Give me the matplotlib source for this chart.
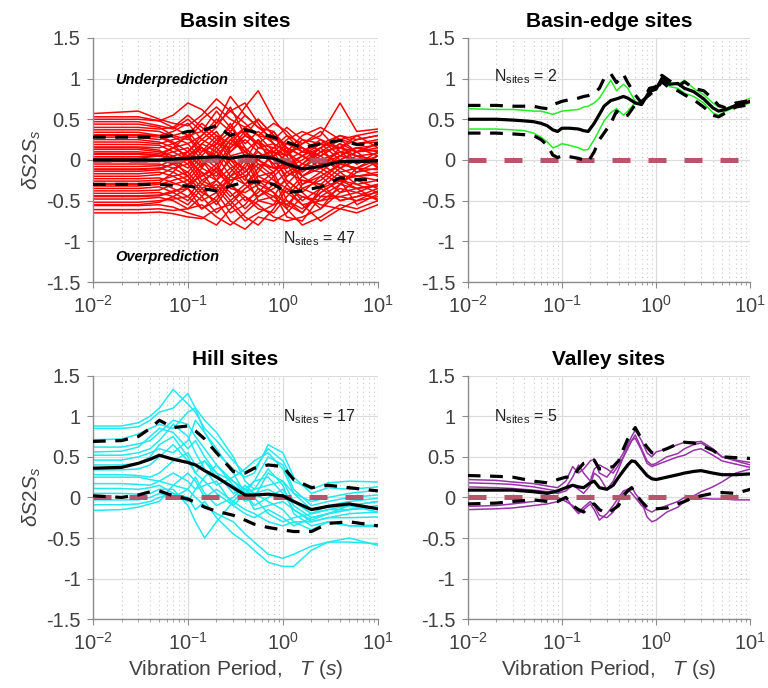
import matplotlib
matplotlib.use('Agg')
import matplotlib.pyplot as plt
from matplotlib.ticker import LogLocator, NullFormatter

plt.rcParams['font.family'] = ['Liberation Sans', 'DejaVu Sans']
plt.rcParams['mathtext.fontset'] = 'custom'
plt.rcParams['mathtext.rm'] = 'Liberation Sans'
plt.rcParams['mathtext.it'] = 'Liberation Sans:italic'
plt.rcParams['mathtext.bf'] = 'Liberation Sans:bold'

# ---------------- Basin sites ----------------
T_basin = [0.01, 0.03, 0.05, 0.07, 0.1, 0.14, 0.2, 0.28, 0.4, 0.55, 0.8, 1.1, 1.6, 2.5, 4.0, 6.0, 10.0]
basin_curves = [
    [0.57, 0.60, 0.50, 0.45, 0.42, 0.55, 0.75, 0.60, 0.45, 0.30, 0.25, 0.20, 0.10, 0.20, 0.30, 0.25, 0.30],
    [0.50, 0.50, 0.48, 0.55, 0.70, 0.62, 0.45, 0.78, 0.55, 0.40, 0.35, 0.15, 0.05, 0.15, 0.25, 0.30, 0.35],
    [0.47, 0.47, 0.42, 0.38, 0.50, 0.35, 0.60, 0.40, 0.65, 0.85, 0.50, 0.30, 0.20, 0.30, 0.70, 0.35, 0.38],
    [0.44, 0.44, 0.40, 0.30, 0.25, 0.45, 0.30, 0.20, 0.40, 0.30, 0.45, 0.35, 0.15, 0.05, 0.20, 0.10, 0.20],
    [0.40, 0.40, 0.38, 0.40, 0.55, 0.40, 0.25, 0.40, 0.20, 0.35, 0.20, 0.10, 0.30, 0.40, 0.25, 0.20, 0.25],
    [0.37, 0.37, 0.35, 0.28, 0.20, 0.30, 0.50, 0.35, 0.55, 0.40, 0.25, 0.40, 0.25, 0.10, 0.15, 0.30, 0.15],
    [0.34, 0.34, 0.30, 0.35, 0.45, 0.25, 0.15, 0.30, 0.35, 0.15, 0.10, 0.25, 0.35, 0.25, 0.05, 0.15, 0.10],
    [0.31, 0.31, 0.30, 0.22, 0.10, 0.25, 0.40, 0.65, 0.30, 0.20, 0.35, 0.10, -0.05, 0.15, 0.30, 0.20, 0.22],
    [0.28, 0.28, 0.25, 0.30, 0.35, 0.15, 0.05, 0.25, 0.10, 0.25, 0.05, 0.20, 0.15, -0.05, 0.10, 0.05, 0.00],
    [0.25, 0.25, 0.22, 0.15, 0.05, 0.20, 0.35, 0.10, 0.30, 0.50, 0.30, 0.05, 0.20, 0.35, 0.10, 0.15, 0.18],
    [0.22, 0.22, 0.20, 0.25, 0.30, 0.10, 0.20, 0.45, 0.15, 0.00, 0.15, 0.30, 0.10, 0.05, 0.20, -0.05, 0.05],
    [0.19, 0.19, 0.18, 0.10, 0.00, 0.15, -0.05, 0.10, 0.25, 0.10, -0.05, 0.00, -0.10, 0.10, 0.25, 0.10, 0.12],
    [0.16, 0.16, 0.15, 0.20, 0.28, 0.05, 0.25, 0.00, -0.10, 0.15, 0.20, -0.10, 0.05, 0.20, 0.00, 0.10, -0.10],
    [0.13, 0.13, 0.10, 0.05, -0.05, 0.20, 0.10, 0.30, 0.05, -0.10, 0.05, 0.15, -0.20, -0.10, 0.15, 0.05, 0.08],
    [0.10, 0.10, 0.08, 0.15, 0.20, 0.00, -0.15, 0.15, 0.35, 0.20, 0.00, -0.20, -0.05, 0.10, -0.05, -0.10, 0.00],
    [0.07, 0.07, 0.05, 0.00, -0.10, 0.10, 0.30, 0.05, -0.15, 0.05, 0.10, 0.05, -0.30, -0.15, 0.05, 0.15, 0.05],
    [0.04, 0.04, 0.05, 0.10, 0.15, -0.05, 0.05, -0.20, 0.00, 0.25, -0.10, -0.10, 0.00, 0.15, -0.10, 0.00, -0.05],
    [0.01, 0.01, 0.00, -0.05, -0.15, 0.05, -0.10, 0.20, 0.15, -0.20, -0.15, 0.10, -0.15, 0.00, 0.10, -0.05, 0.10],
    [-0.02, -0.02, -0.02, 0.05, 0.10, -0.10, 0.15, -0.05, -0.25, 0.05, 0.05, -0.25, -0.40, -0.20, -0.05, 0.05, -0.08],
    [-0.05, -0.05, -0.05, -0.10, -0.20, 0.00, -0.25, 0.05, 0.10, -0.05, -0.20, -0.05, 0.05, -0.10, 0.00, -0.15, -0.02],
    [-0.08, -0.08, -0.07, 0.00, 0.05, -0.20, -0.05, -0.30, -0.05, 0.10, -0.05, -0.30, -0.10, 0.05, -0.15, -0.10, -0.12],
    [-0.11, -0.11, -0.10, -0.15, -0.25, -0.05, 0.10, -0.10, -0.30, -0.15, 0.10, -0.15, -0.25, -0.30, -0.10, 0.00, -0.05],
    [-0.14, -0.14, -0.12, -0.05, 0.00, -0.25, -0.35, -0.15, 0.05, -0.25, -0.30, -0.40, -0.20, -0.05, -0.20, -0.20, -0.15],
    [-0.17, -0.17, -0.15, -0.20, -0.30, -0.10, -0.20, 0.00, -0.20, -0.05, -0.10, -0.05, -0.35, -0.25, -0.05, -0.10, -0.20],
    [-0.20, -0.20, -0.18, -0.10, -0.05, -0.30, -0.10, -0.35, -0.40, -0.30, -0.15, -0.50, -0.60, -0.40, -0.25, -0.30, -0.25],
    [-0.23, -0.23, -0.22, -0.28, -0.35, -0.15, -0.40, -0.20, -0.10, -0.35, -0.45, -0.20, -0.10, -0.15, -0.30, -0.15, -0.10],
    [-0.26, -0.26, -0.25, -0.20, -0.15, -0.35, -0.25, -0.45, -0.30, -0.10, -0.25, -0.35, -0.45, -0.50, -0.35, -0.40, -0.30],
    [-0.29, -0.29, -0.28, -0.35, -0.45, -0.25, -0.15, -0.30, -0.50, -0.40, -0.20, -0.60, -0.30, -0.20, -0.40, -0.25, -0.35],
    [-0.32, -0.32, -0.30, -0.25, -0.20, -0.40, -0.50, -0.25, -0.20, -0.50, -0.55, -0.30, -0.50, -0.35, -0.15, -0.30, -0.40],
    [-0.35, -0.35, -0.33, -0.40, -0.50, -0.30, -0.35, -0.55, -0.35, -0.25, -0.40, -0.70, -0.75, -0.45, -0.45, -0.50, -0.45],
    [-0.38, -0.38, -0.37, -0.30, -0.25, -0.45, -0.25, -0.40, -0.60, -0.45, -0.35, -0.25, -0.40, -0.60, -0.30, -0.35, -0.50],
    [-0.41, -0.41, -0.40, -0.45, -0.55, -0.35, -0.55, -0.30, -0.45, -0.60, -0.65, -0.45, -0.25, -0.30, -0.50, -0.45, -0.35],
    [-0.44, -0.44, -0.43, -0.38, -0.35, -0.50, -0.40, -0.65, -0.55, -0.35, -0.50, -0.55, -0.65, -0.40, -0.25, -0.55, -0.42],
    [-0.48, -0.48, -0.46, -0.50, -0.60, -0.45, -0.65, -0.50, -0.70, -0.80, -0.60, -0.35, -0.55, -0.50, -0.45, -0.40, -0.48],
    [-0.52, -0.52, -0.50, -0.48, -0.45, -0.60, -0.50, -0.75, -0.85, -0.70, -0.75, -0.65, -0.45, -0.55, -0.60, -0.50, -0.38],
    [-0.56, -0.56, -0.55, -0.58, -0.65, -0.70, -0.80, -0.60, -0.45, -0.55, -0.70, -0.75, -0.70, -0.60, -0.40, -0.35, -0.32],
    [-0.61, -0.61, -0.60, -0.62, -0.60, -0.55, -0.70, -0.80, -0.65, -0.50, -0.45, -0.60, -0.80, -0.70, -0.55, -0.60, -0.50],
    [-0.65, -0.65, -0.64, -0.66, -0.70, -0.72, -0.60, -0.55, -0.75, -0.65, -0.55, -0.50, -0.65, -0.35, -0.50, -0.45, -0.40],
    [0.53, 0.53, 0.48, 0.40, 0.30, 0.35, 0.20, 0.15, 0.30, 0.20, 0.15, 0.05, 0.25, 0.20, 0.15, 0.25, 0.30],
    [0.02, 0.02, 0.05, 0.15, 0.30, 0.50, 0.65, 0.50, 0.40, 0.50, 0.30, 0.15, 0.05, -0.05, 0.00, 0.10, 0.15],
    [-0.12, -0.12, -0.10, -0.05, 0.10, 0.30, 0.45, 0.60, 0.70, 0.45, 0.20, 0.10, 0.15, 0.00, -0.10, -0.20, -0.25],
    [0.15, 0.15, 0.12, 0.00, -0.20, -0.40, -0.30, -0.50, -0.35, -0.20, -0.30, -0.15, -0.05, -0.10, -0.25, -0.20, -0.18],
    [-0.30, -0.30, -0.28, -0.15, 0.05, 0.15, 0.00, 0.25, 0.40, 0.30, 0.10, 0.00, -0.20, -0.05, 0.05, 0.00, -0.02],
    [0.30, 0.30, 0.28, 0.20, 0.00, -0.15, -0.25, -0.10, 0.00, -0.30, -0.40, -0.55, -0.35, -0.45, -0.30, -0.10, 0.05],
    [-0.45, -0.45, -0.44, -0.40, -0.30, -0.20, -0.10, -0.25, -0.15, 0.00, -0.15, 0.00, 0.10, 0.25, 0.15, 0.10, 0.20],
    [0.08, 0.08, 0.06, 0.02, 0.05, -0.08, 0.20, 0.35, 0.10, 0.00, -0.10, -0.05, -0.20, -0.35, -0.25, -0.35, -0.30],
    [-0.55, -0.55, -0.52, -0.45, -0.35, -0.60, -0.45, -0.20, -0.30, -0.45, -0.30, -0.40, -0.55, -0.75, -0.60, -0.65, -0.55],
]
basin_mean = [0.00, 0.00, 0.00, 0.01, 0.02, 0.03, 0.04, 0.02, 0.05, 0.04, 0.02, -0.05, -0.11, -0.08, -0.02, -0.02, -0.01]
basin_upper = [0.28, 0.28, 0.28, 0.30, 0.35, 0.36, 0.42, 0.30, 0.37, 0.33, 0.28, 0.22, 0.15, 0.20, 0.24, 0.19, 0.20]
basin_lower = [-0.30, -0.30, -0.30, -0.31, -0.32, -0.35, -0.38, -0.32, -0.27, -0.27, -0.30, -0.40, -0.38, -0.33, -0.22, -0.24, -0.25]

# ---------------- Basin-edge sites ----------------
T_edge = [0.01, 0.02, 0.03, 0.04, 0.05, 0.06, 0.07, 0.08, 0.09, 0.1, 0.12, 0.15, 0.17, 0.19, 0.22, 0.25,
          0.28, 0.33, 0.38, 0.45, 0.5, 0.6, 0.7, 0.85, 1.0, 1.15, 1.4, 1.7, 2.0, 2.5, 3.2, 4.0, 4.6, 5.5, 7.0, 10.0]
edge_curves = [
    [0.63, 0.62, 0.62, 0.61, 0.60, 0.60, 0.58, 0.56, 0.58, 0.60, 0.61, 0.62, 0.65, 0.66, 0.70, 0.76, 0.85, 0.98,
     0.85, 0.93, 0.88, 0.72, 0.68, 0.87, 0.86, 1.02, 0.95, 0.92, 0.98, 0.88, 0.80, 0.70, 0.65, 0.63, 0.68, 0.76],
    [0.38, 0.38, 0.37, 0.36, 0.33, 0.28, 0.22, 0.15, 0.17, 0.20, 0.18, 0.15, 0.12, 0.13, 0.25, 0.37, 0.48, 0.58,
     0.63, 0.55, 0.60, 0.70, 0.68, 0.82, 0.88, 1.00, 0.90, 0.88, 0.82, 0.78, 0.70, 0.58, 0.55, 0.60, 0.65, 0.70],
]
edge_mean = [0.50, 0.50, 0.49, 0.48, 0.47, 0.45, 0.42, 0.37, 0.35, 0.39, 0.39, 0.38, 0.36, 0.35, 0.45, 0.56, 0.66, 0.73,
             0.75, 0.78, 0.76, 0.70, 0.68, 0.84, 0.87, 1.00, 0.93, 0.94, 0.88, 0.84, 0.75, 0.64, 0.60, 0.62, 0.67, 0.72]
edge_upper = [0.67, 0.67, 0.66, 0.66, 0.66, 0.64, 0.63, 0.68, 0.70, 0.72, 0.74, 0.76, 0.78, 0.79, 0.82, 0.88, 1.00, 1.06,
              0.95, 1.05, 0.95, 0.80, 0.70, 0.88, 0.90, 1.04, 0.97, 0.90, 0.96, 0.88, 0.85, 0.75, 0.67, 0.64, 0.70, 0.73]
edge_lower = [0.33, 0.33, 0.32, 0.31, 0.30, 0.25, 0.18, 0.06, 0.03, 0.05, 0.04, 0.02, 0.00, -0.02, 0.10, 0.25, 0.33, 0.45,
              0.60, 0.53, 0.55, 0.68, 0.72, 0.80, 0.87, 0.96, 0.88, 0.85, 0.80, 0.74, 0.65, 0.55, 0.53, 0.58, 0.65, 0.68]

# ---------------- Hill sites ----------------
T_hill = [0.01, 0.02, 0.03, 0.04, 0.05, 0.07, 0.1, 0.12, 0.15, 0.2, 0.3, 0.4, 0.5, 0.7, 1.0, 1.3, 2.0, 3.0, 5.0, 10.0]
hill_curves = [
    [0.88, 0.88, 0.92, 1.00, 1.10, 1.33, 1.15, 1.05, 0.85, 0.70, 0.45, 0.30, 0.35, 0.60, 0.45, 0.20, 0.10, 0.18, 0.20, 0.19],
    [0.85, 0.85, 0.87, 0.95, 1.05, 1.10, 1.28, 1.10, 0.80, 0.55, 0.35, 0.25, 0.30, 0.65, 0.55, 0.25, 0.05, 0.12, 0.10, 0.13],
    [0.71, 0.72, 0.78, 0.85, 0.90, 0.85, 1.05, 1.10, 0.95, 0.80, 0.50, 0.20, 0.10, 0.15, 0.20, 0.05, -0.05, 0.00, 0.05, 0.09],
    [0.62, 0.62, 0.66, 0.70, 0.80, 0.95, 0.90, 0.75, 0.60, 0.40, 0.20, 0.10, 0.20, 0.50, 0.40, 0.10, -0.10, -0.05, 0.00, 0.03],
    [0.56, 0.57, 0.62, 0.75, 0.85, 0.80, 0.60, 0.70, 0.50, 0.30, 0.05, 0.10, 0.05, 0.10, 0.00, -0.05, -0.20, -0.15, -0.10, -0.05],
    [0.52, 0.52, 0.55, 0.60, 0.70, 0.90, 0.75, 0.55, 0.35, 0.15, 0.25, 0.35, 0.45, 0.55, 0.35, 0.05, -0.15, -0.10, -0.05, -0.01],
    [0.46, 0.46, 0.50, 0.55, 0.60, 0.55, 0.70, 0.95, 0.80, 0.60, 0.30, 0.05, -0.10, 0.00, 0.10, -0.10, -0.25, -0.20, -0.15, -0.12],
    [0.34, 0.34, 0.35, 0.40, 0.50, 0.65, 0.45, 0.30, 0.20, 0.05, -0.10, 0.05, 0.20, 0.25, 0.05, -0.15, -0.30, -0.25, -0.25, -0.24],
    [0.28, 0.28, 0.27, 0.25, 0.30, 0.45, 0.55, 0.40, 0.45, 0.25, 0.10, -0.05, 0.00, 0.30, 0.20, -0.05, -0.20, -0.10, -0.10, -0.18],
    [0.25, 0.25, 0.25, 0.22, 0.20, 0.30, 0.20, 0.10, 0.25, 0.40, 0.15, 0.05, 0.10, 0.35, 0.15, -0.20, -0.35, -0.30, -0.35, -0.34],
    [0.17, 0.17, 0.16, 0.15, 0.20, 0.15, 0.10, 0.25, 0.05, -0.10, 0.00, 0.15, 0.05, -0.05, -0.15, -0.30, -0.40, -0.30, -0.35, -0.36],
    [0.11, 0.11, 0.10, 0.12, 0.15, 0.05, -0.05, 0.10, 0.15, 0.20, -0.10, -0.20, -0.25, -0.15, -0.25, -0.35, -0.25, -0.20, -0.10, -0.05],
    [0.05, 0.05, 0.04, 0.05, 0.10, 0.10, -0.10, -0.30, -0.50, -0.30, -0.05, 0.10, 0.00, -0.20, -0.30, -0.25, -0.20, -0.15, -0.15, -0.10],
    [-0.03, -0.03, -0.03, 0.00, 0.05, 0.00, 0.10, 0.00, -0.10, -0.20, -0.30, -0.45, -0.55, -0.70, -0.75, -0.70, -0.60, -0.55, -0.50, -0.59],
    [-0.09, -0.09, -0.08, -0.05, 0.00, 0.05, 0.00, -0.15, -0.05, -0.25, -0.45, -0.55, -0.65, -0.80, -0.85, -0.85, -0.65, -0.55, -0.55, -0.57],
    [-0.16, -0.15, -0.12, -0.08, -0.05, 0.15, 0.30, 0.20, 0.00, 0.10, -0.05, -0.15, -0.20, -0.30, -0.35, -0.30, -0.30, -0.25, -0.20, -0.18],
    [0.40, 0.40, 0.42, 0.50, 0.65, 0.75, 0.50, 0.30, 0.45, 0.30, 0.20, 0.05, -0.15, -0.10, -0.05, -0.15, -0.28, -0.20, -0.15, -0.12],
]
hill_mean = [0.36, 0.37, 0.42, 0.47, 0.52, 0.47, 0.43, 0.40, 0.33, 0.25, 0.12, 0.03, 0.03, 0.04, 0.02, -0.05, -0.15, -0.11, -0.08, -0.14]
hill_upper = [0.69, 0.70, 0.75, 0.85, 0.95, 0.86, 0.88, 0.82, 0.72, 0.55, 0.32, 0.30, 0.36, 0.40, 0.38, 0.22, 0.12, 0.15, 0.12, 0.08]
hill_lower = [0.02, 0.00, 0.03, 0.07, 0.08, 0.02, -0.02, -0.06, -0.12, -0.17, -0.22, -0.28, -0.33, -0.37, -0.40, -0.42, -0.42, -0.32, -0.30, -0.35]

# ---------------- Valley sites ----------------
T_valley = [0.01, 0.02, 0.03, 0.05, 0.07, 0.09, 0.11, 0.13, 0.15, 0.17, 0.2, 0.22, 0.25, 0.3, 0.35, 0.4, 0.45,
            0.5, 0.55, 0.6, 0.7, 0.8, 0.9, 1.0, 1.3, 1.7, 2.0, 2.5, 3.0, 4.0, 5.0, 7.0, 10.0]
valley_curves = [
    [0.22, 0.21, 0.19, 0.17, 0.14, 0.12, 0.20, 0.38, 0.30, 0.35, 0.45, 0.47, 0.30, 0.25, 0.35, 0.45, 0.55,
     0.65, 0.75, 0.83, 0.70, 0.55, 0.50, 0.56, 0.60, 0.65, 0.68, 0.68, 0.69, 0.60, 0.50, 0.45, 0.40],
    [0.18, 0.17, 0.16, 0.13, 0.10, 0.08, 0.12, 0.25, 0.40, 0.30, 0.20, 0.35, 0.40, 0.35, 0.30, 0.40, 0.50,
     0.60, 0.70, 0.77, 0.60, 0.45, 0.40, 0.42, 0.50, 0.54, 0.60, 0.65, 0.67, 0.58, 0.50, 0.46, 0.43],
    [0.13, 0.12, 0.11, 0.09, 0.07, 0.05, 0.08, 0.15, 0.10, 0.05, 0.15, 0.30, 0.25, 0.10, 0.20, 0.35, 0.50,
     0.62, 0.70, 0.73, 0.58, 0.42, 0.38, 0.40, 0.45, 0.50, 0.52, 0.58, 0.60, 0.52, 0.45, 0.41, 0.37],
    [-0.11, -0.10, -0.08, -0.05, -0.02, 0.00, -0.05, -0.10, -0.18, -0.12, -0.05, -0.10, -0.22, -0.25, -0.18, -0.05, 0.05,
     0.10, 0.13, 0.05, -0.05, -0.24, -0.30, -0.28, -0.18, -0.12, -0.05, 0.02, 0.07, 0.13, 0.19, 0.30, 0.35],
    [-0.15, -0.14, -0.13, -0.10, -0.08, -0.05, 0.00, -0.12, -0.20, -0.15, -0.08, -0.15, -0.28, -0.20, -0.10, 0.00, 0.08,
     0.10, 0.05, 0.00, -0.10, -0.15, -0.18, -0.15, -0.10, -0.05, 0.00, -0.01, -0.01, -0.02, -0.02, -0.03, -0.03],
]
valley_mean = [0.09, 0.09, 0.09, 0.07, 0.05, 0.08, 0.12, 0.15, 0.13, 0.12, 0.18, 0.20, 0.12, 0.10, 0.15, 0.25, 0.33,
               0.40, 0.45, 0.44, 0.35, 0.27, 0.23, 0.22, 0.25, 0.28, 0.30, 0.32, 0.33, 0.30, 0.28, 0.28, 0.29]
valley_upper = [0.27, 0.26, 0.25, 0.20, 0.18, 0.22, 0.25, 0.25, 0.35, 0.42, 0.45, 0.46, 0.35, 0.36, 0.38, 0.45, 0.60,
                0.72, 0.80, 0.86, 0.72, 0.62, 0.55, 0.55, 0.60, 0.66, 0.68, 0.67, 0.64, 0.58, 0.50, 0.49, 0.48]
valley_lower = [-0.08, -0.07, -0.05, -0.03, -0.05, -0.05, 0.00, -0.10, -0.15, -0.18, -0.10, -0.08, -0.15, -0.20, -0.15, -0.10, 0.02,
                0.08, 0.12, 0.05, -0.05, -0.12, -0.15, -0.14, -0.13, -0.08, -0.05, 0.00, 0.02, 0.05, 0.06, 0.05, 0.10]

zero_T = [0.01, 10.0]
zero_val = [0.0, 0.0]

panels = [
    ('Basin sites', T_basin, basin_curves, basin_mean, basin_upper, basin_lower, '#ff0000', 47, (1.0, -0.97)),
    ('Basin-edge sites', T_edge, edge_curves, edge_mean, edge_upper, edge_lower, '#22ee22', 2, (0.019, 1.02)),
    ('Hill sites', T_hill, hill_curves, hill_mean, hill_upper, hill_lower, '#22e8f0', 17, (1.0, 1.0)),
    ('Valley sites', T_valley, valley_curves, valley_mean, valley_upper, valley_lower, '#9933aa', 5, (0.019, 1.0)),
]

positions = [
    [0.121, 0.590, 0.371, 0.355],
    [0.609, 0.590, 0.368, 0.355],
    [0.121, 0.100, 0.371, 0.354],
    [0.609, 0.100, 0.368, 0.354],
]

fig = plt.figure(figsize=(7.68, 6.88), dpi=100)
zero_color = '#b5566c'
tick_color = '#404040'

for i, (title, T, curves, mean, upper, lower, color, n, npos) in enumerate(panels):
    ax = fig.add_axes(positions[i])
    ax.set_xscale('log')
    ax.set_xlim(0.01, 10)
    ax.set_ylim(-1.5, 1.5)

    for c in curves:
        ax.plot(T, c, color=color, lw=1.1, zorder=2)
    ax.plot(zero_T, zero_val, color=zero_color, lw=3.6, dashes=(3.6, 3.6),
            alpha=0.85 if i == 0 else 1.0, zorder=3)
    ax.plot(T, mean, color='black', lw=2.3, zorder=4)
    ax.plot(T, upper, color='black', lw=2.3, dashes=(4, 3), zorder=4)
    ax.plot(T, lower, color='black', lw=2.3, dashes=(4, 3), zorder=4)

    ax.text(npos[0], npos[1], r'N$_{\mathrm{sites}}$ = %d' % n, fontsize=11.5,
            color='#202020', va='center', ha='left', zorder=5)

    if i == 0:
        ax.text(0.017, 0.98, 'Underprediction', fontsize=10.5, fontweight='bold',
                fontstyle='italic', va='center', ha='left', zorder=5)
        ax.text(0.017, -1.19, 'Overprediction', fontsize=10.5, fontweight='bold',
                fontstyle='italic', va='center', ha='left', zorder=5)

    ax.set_title(title, fontsize=15, fontweight='bold', pad=8)
    ax.set_yticks([-1.5, -1, -0.5, 0, 0.5, 1, 1.5])
    ax.set_yticklabels(['-1.5', '-1', '-0.5', '0', '0.5', '1', '1.5'])
    ax.xaxis.set_major_locator(LogLocator(base=10, numticks=10))
    ax.xaxis.set_minor_locator(LogLocator(base=10, subs=range(2, 10), numticks=10))
    ax.xaxis.set_minor_formatter(NullFormatter())

    ax.grid(True, which='major', color='#dcdcdc', lw=0.9, zorder=0)
    ax.grid(True, which='minor', axis='x', color='#c8c8c8', lw=0.8, ls=(0, (1, 3)), zorder=0)
    ax.set_axisbelow(True)

    for s in ['top', 'right']:
        ax.spines[s].set_visible(False)
    for s in ['left', 'bottom']:
        ax.spines[s].set_color('#8c8c8c')
        ax.spines[s].set_linewidth(1.0)
    ax.tick_params(axis='both', which='major', labelsize=14.5, colors='#8c8c8c',
                   labelcolor=tick_color, length=4, direction='out', pad=5)
    ax.tick_params(axis='x', which='minor', colors='#8c8c8c', length=2.5)

    if i % 2 == 0:
        ax.set_ylabel(r'$\delta S2S_s$', fontsize=15, color=tick_color, labelpad=2)
    if i >= 2:
        ax.set_xlabel(r'Vibration Period,   $T$ $(s)$', fontsize=15, color=tick_color, labelpad=3)

fig.savefig('out.png', dpi=100)
